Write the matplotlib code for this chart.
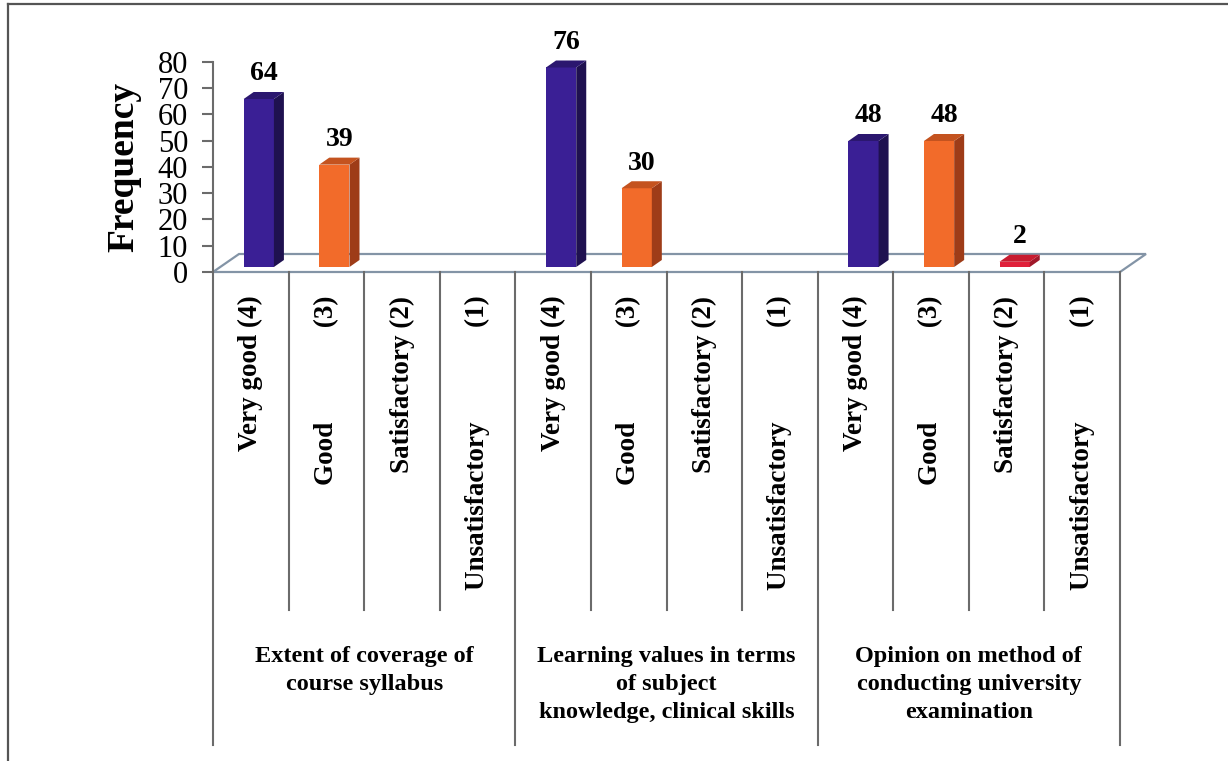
import numpy as np
import matplotlib
matplotlib.use("Agg")
import matplotlib.pyplot as plt
from matplotlib.patches import Polygon

# data
groups = ["Extent of coverage of\ncourse syllabus",
          "Learning values in terms\nof subject\nknowledge, clinical skills",
          "Opinion on method of\nconducting university\nexamination"]
ratings = ["Very good (4)", "Good              (3)", "Satisfactory (2)",
           "Unsatisfactory              (1)"]
coverage = [64, 39, 0, 0]
learning = [76, 30, 0, 0]
exam = [48, 48, 2, 0]
yticks = [0, 10, 20, 30, 40, 50, 60, 70, 80]

# styles
front_cols = ["#3a1f95", "#f26b2a", "#e0203a", "#888888"]
top_cols = ["#2b176f", "#c4531f", "#c81c30", "#777777"]
side_cols = ["#1f1150", "#9e3c18", "#a0182a", "#555555"]
line_col = "#6b6b6b"
floor_col = "#8394a6"

plt.rcParams["font.family"] = ["Liberation Serif", "DejaVu Serif"]

fig = plt.figure(figsize=(12.28, 7.61), dpi=100)
W, H = 1228, 761
# axes from pixel box: x 213..1120, y 62..272
ax = fig.add_axes([213 / W, (H - 272) / H, (1120 - 213) / W, (272 - 62) / H])
ax.set_xlim(0, 12)
ax.set_ylim(0, 80)

# frame of the picture (left + top)
fig.add_artist(plt.Line2D([8 / W, 8 / W], [0, 1 - 4 / H], color="#555555", lw=1.6))
fig.add_artist(plt.Line2D([8 / W, 1], [1 - 4 / H, 1 - 4 / H], color="#555555", lw=1.6))

# pixel -> data units
px_x = 12 / (1120 - 213)
px_y = 80 / (272 - 62)

# floor parallelogram
fdx, fdy = 26 * px_x, 18 * px_y
floor = Polygon([(0, 0), (12, 0), (12 + fdx, fdy), (fdx, fdy)], closed=True,
                facecolor="white", edgecolor=floor_col, lw=1.6, clip_on=False, zorder=1)
ax.add_patch(floor)

# bars
values = coverage + learning + exam
slots = np.arange(12) + 0.5
bw = 0.4
shift_x, shift_y = 8 * px_x, 5 * px_y
ddx, ddy = 10 * px_x, 7 * px_y
for i, v in enumerate(values):
    if v == 0:
        continue
    c = i % 4
    xc = slots[i] + shift_x
    x0, x1 = xc - bw / 2, xc + bw / 2
    b = shift_y
    t = b + v
    ax.bar(xc, v, width=bw, bottom=b, color=front_cols[c], zorder=3, clip_on=False)
    ax.add_patch(Polygon([(x1, b), (x1 + ddx, b + ddy), (x1 + ddx, t + ddy), (x1, t)],
                         closed=True, facecolor=side_cols[c], edgecolor="none",
                         zorder=3, clip_on=False))
    ax.add_patch(Polygon([(x0, t), (x1, t), (x1 + ddx, t + ddy), (x0 + ddx, t + ddy)],
                         closed=True, facecolor=top_cols[c], edgecolor="none",
                         zorder=3, clip_on=False))
    ax.annotate(str(v), (xc + ddx / 2, t + ddy), xytext=(0, 4), textcoords="offset points",
                ha="center", va="bottom", fontsize=20, fontweight="bold", annotation_clip=False)

# y axis
for s in ["top", "right", "bottom"]:
    ax.spines[s].set_visible(False)
ax.spines["left"].set_color(line_col)
ax.spines["left"].set_linewidth(1.5)
ax.set_yticks(yticks)
ax.tick_params(axis="y", direction="out", length=8, width=1.5, color=line_col,
               labelsize=22, pad=10)
ax.set_ylabel("Frequency", fontsize=27, fontweight="bold", labelpad=12)

# category axis labels
ax.set_xticks(slots)
ax.set_xticklabels(ratings * 3, rotation=90, fontsize=19.5, fontweight="bold", va="top")
ax.tick_params(axis="x", length=0, pad=17)

# divider lines below the axis
tr = ax.get_xaxis_transform()
minor_end = -(610 - 272) / (272 - 62)
major_end = -(745 - 272) / (272 - 62)
for k in range(13):
    end = major_end if k % 4 == 0 else minor_end
    ax.plot([k, k], [0, end], color=line_col, lw=1.5, transform=tr, clip_on=False, zorder=2)

# group labels
for g, label in enumerate(groups):
    ax.text(g * 4 + 2, -(646 - 272) / (272 - 62), label, transform=tr, ha="center", va="top",
            fontsize=17.5, fontweight="bold", linespacing=1.45)

fig.savefig("out.png", dpi=100)
